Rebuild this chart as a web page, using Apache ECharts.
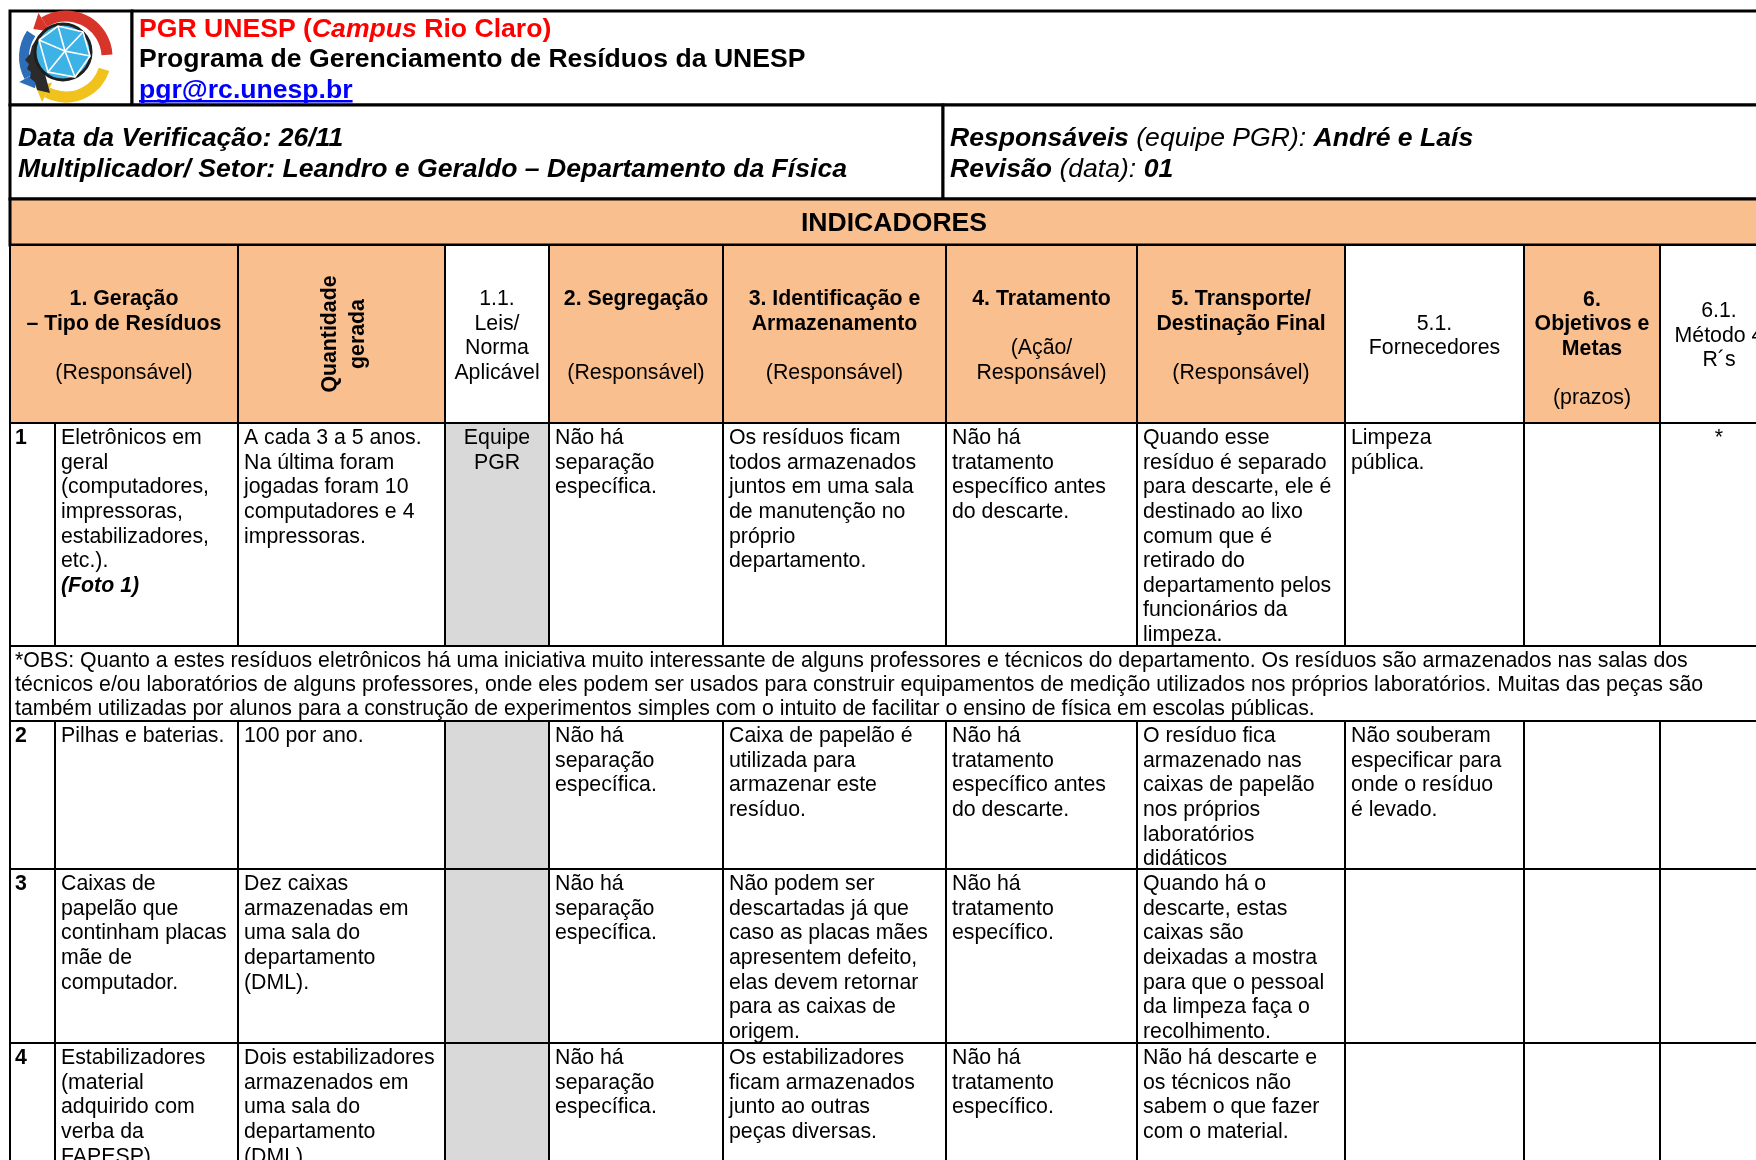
<!DOCTYPE html>
<html><head><meta charset="utf-8">
<script src="https://cdn.jsdelivr.net/npm/echarts@6/dist/echarts.min.js"></script>
<style>html,body{margin:0;padding:0;background:#fff}#c{width:1756px;height:1160px}</style>
</head><body><div id="c"></div>
<script>
// ---------------- DATA ----------------
const titleLines = ['{red|PGR UNESP (}{redi|Campus}{red| Rio Claro)}', 'Programa de Gerenciamento de Resíduos da UNESP', '{blue|pgr@rc.unesp.br}'];
const emailText = 'pgr@rc.unesp.br';
const infoLeft = ['Data da Verificação: 26/11', 'Multiplicador/ Setor: Leandro e Geraldo – Departamento da Física'];
const infoRight = ['{bi|Responsáveis}{i| (equipe PGR): }{bi|André e Laís}', '{bi|Revisão}{i| (data): }{bi|01}'];
const sectionTitle = 'INDICADORES';
const headerLabels = [
  '{b|1. Geração}\n{b|– Tipo de Resíduos}\n \n(Responsável)',
  'Quantidade\ngerada',
  '1.1.\nLeis/\nNorma\nAplicável',
  '{b|2. Segregação}\n \n \n(Responsável)',
  '{b|3. Identificação e}\n{b|Armazenamento}\n \n(Responsável)',
  '{b|4. Tratamento}\n \n(Ação/\nResponsável)',
  '{b|5. Transporte/}\n{b|Destinação Final}\n \n(Responsável)',
  '5.1.\nFornecedores',
  '{b|6.}\n{b|Objetivos e}\n{b|Metas}\n \n(prazos)',
  '6.1.\nMétodo 4\nR´s'
];
const rowNumbers = ['1', '2', '3', '4'];
const wasteTypes = [
  'Eletrônicos em\ngeral\n(computadores,\nimpressoras,\nestabilizadores,\netc.).\n{bi|(Foto 1)}',
  'Pilhas e baterias.',
  'Caixas de\npapelão que\ncontinham placas\nmãe de\ncomputador.',
  'Estabilizadores\n(material\nadquirido com\nverba da\nFAPESP).'
];
const quantities = [
  'A cada 3 a 5 anos.\nNa última foram\njogadas foram 10\ncomputadores e 4\nimpressoras.',
  '100 por ano.',
  'Dez caixas\narmazenadas em\numa sala do\ndepartamento\n(DML).',
  'Dois estabilizadores\narmazenados em\numa sala do\ndepartamento\n(DML).'
];
const laws = ['Equipe\nPGR', '', '', ''];
const segregation = [
  'Não há\nseparação\nespecífica.',
  'Não há\nseparação\nespecífica.',
  'Não há\nseparação\nespecífica.',
  'Não há\nseparação\nespecífica.'
];
const storage = [
  'Os resíduos ficam\ntodos armazenados\njuntos em uma sala\nde manutenção no\npróprio\ndepartamento.',
  'Caixa de papelão é\nutilizada para\narmazenar este\nresíduo.',
  'Não podem ser\ndescartadas já que\ncaso as placas mães\napresentem defeito,\nelas devem retornar\npara as caixas de\norigem.',
  'Os estabilizadores\nficam armazenados\njunto ao outras\npeças diversas.'
];
const treatment = [
  'Não há\ntratamento\nespecífico antes\ndo descarte.',
  'Não há\ntratamento\nespecífico antes\ndo descarte.',
  'Não há\ntratamento\nespecífico.',
  'Não há\ntratamento\nespecífico.'
];
const transport = [
  'Quando esse\nresíduo é separado\npara descarte, ele é\ndestinado ao lixo\ncomum que é\nretirado do\ndepartamento pelos\nfuncionários da\nlimpeza.',
  'O resíduo fica\narmazenado nas\ncaixas de papelão\nnos próprios\nlaboratórios\ndidáticos',
  'Quando há o\ndescarte, estas\ncaixas são\ndeixadas a mostra\npara que o pessoal\nda limpeza faça o\nrecolhimento.',
  'Não há descarte e\nos técnicos não\nsabem o que fazer\ncom o material.'
];
const suppliers = ['Limpeza\npública.', 'Não souberam\nespecificar para\nonde o resíduo\né levado.', '', ''];
const objectives = ['', '', '', ''];
const method4R = ['*', '', '', ''];
const obsNote = '*OBS: Quanto a estes resíduos eletrônicos há uma iniciativa muito interessante de alguns professores e técnicos do departamento. Os resíduos são armazenados nas salas dos\ntécnicos e/ou laboratórios de alguns professores, onde eles podem ser usados para construir equipamentos de medição utilizados nos próprios laboratórios. Muitas das peças são\ntambém utilizadas por alunos para a construção de experimentos simples com o intuito de facilitar o ensino de física em escolas públicas.';

// ---------------- LAYOUT / STYLE ----------------
const F = '"Liberation Sans", Arial, Helvetica, sans-serif';
const ORANGE = '#FABF8F', GRAY = '#D9D9D9';
const BIG = 26.6, SMALL = 21.3;
const colEdges = [10, 55, 238, 445, 549, 723, 946, 1137, 1345, 1524, 1660, 1778];
const headerSpans = [[0, 2], [2, 3], [3, 4], [4, 5], [5, 6], [6, 7], [7, 8], [8, 9], [9, 10], [10, 11]];
const headerFills = [ORANGE, ORANGE, '#fff', ORANGE, ORANGE, ORANGE, ORANGE, '#fff', ORANGE, '#fff'];
const headerDy = [2, 2, 2, 2, 2, 2, 2, 2, 15, 2];
const Y = { top: 11, logoBottom: 105, infoBottom: 199, secBottom: 245, headBottom: 423 };
const bodyRowEdges = [[423, 646], [721, 869], [869, 1043], [1043, 1243]];
const obsEdges = [646, 721];
const logoRight = 132, infoSplit = 943;

function rich(fs, lh) {
  return {
    b: { fontWeight: 'bold', fontSize: fs, lineHeight: lh, fontFamily: F, fill: '#000' },
    bi: { fontWeight: 'bold', fontStyle: 'italic', fontSize: fs, lineHeight: lh, fontFamily: F, fill: '#000' },
    i: { fontStyle: 'italic', fontSize: fs, lineHeight: lh, fontFamily: F, fill: '#000' },
    red: { fontWeight: 'bold', fontSize: fs, lineHeight: lh, fontFamily: F, fill: '#FF0000' },
    redi: { fontWeight: 'bold', fontStyle: 'italic', fontSize: fs, lineHeight: lh, fontFamily: F, fill: '#FF0000' },
    blue: { fontWeight: 'bold', fontSize: fs, lineHeight: lh, fontFamily: F, fill: '#0000FF' }
  };
}

// ---------------- BUILD CELLS ----------------
const cells = [];
const right = colEdges[colEdges.length - 1];
function add(x0, y0, x1, y1, o) { cells.push(Object.assign({ v: [x0, y0, x1, y1] }, o)); }

add(colEdges[0], Y.top, logoRight, Y.logoBottom, { lw: 3 });
add(logoRight, Y.top, right, Y.logoBottom, { lw: 3, text: titleLines.join('\n'), t: { mode: 'tl', padX: 7, padY: 3, fs: BIG, lh: 30.5, fw: 'bold' }, email: true });
add(colEdges[0], Y.logoBottom, infoSplit, Y.infoBottom, { lw: 3, text: infoLeft.join('\n'), t: { mode: 'tl', padX: 8, padY: 18.5, fs: BIG, lh: 31, fw: 'bold', fst: 'italic' } });
add(infoSplit, Y.logoBottom, right, Y.infoBottom, { lw: 3, text: infoRight.join('\n'), t: { mode: 'tl', padX: 7, padY: 18.5, fs: BIG, lh: 31, fst: 'italic' } });
add(colEdges[0], Y.infoBottom, right, Y.secBottom, { lw: 3, fill: ORANGE, text: sectionTitle, t: { mode: 'c', fs: BIG, lh: 30, fw: 'bold', dy: 2 } });

headerLabels.forEach((lab, i) => {
  const s = headerSpans[i];
  const rot = i === 1;
  add(colEdges[s[0]], Y.secBottom, colEdges[s[1]], Y.headBottom, {
    fill: headerFills[i], text: lab,
    t: { mode: 'c', fs: SMALL, lh: 24.6, fw: rot ? 'bold' : 'normal', dy: rot ? 0 : headerDy[i], dx: rot ? 3 : 0, rot: rot ? Math.PI / 2 : 0, lh2: rot ? 28 : null }
  });
});

const bodyCols = [rowNumbers, wasteTypes, quantities, laws, segregation, storage, treatment, transport, suppliers, objectives, method4R];
function bodyRow(r) {
  const [y0, y1] = bodyRowEdges[r];
  bodyCols.forEach((col, c) => {
    const centered = (c === 3 || c === 10);
    add(colEdges[c], y0, colEdges[c + 1], y1, {
      fill: c === 3 ? GRAY : '#fff', text: col[r],
      t: { mode: centered ? 'tc' : 'tl', padX: c === 0 ? 5 : 6, padY: 3, fs: SMALL, lh: 24.6, fw: c === 0 ? 'bold' : 'normal' }
    });
  });
}
bodyRow(0);
add(colEdges[0], obsEdges[0], right, obsEdges[1], { text: obsNote, t: { mode: 'tl', padX: 5, padY: 3, fs: SMALL, lh: 24, fw: 'normal' } });
bodyRow(1); bodyRow(2); bodyRow(3);

// measure for underline
const mctx = document.createElement('canvas').getContext('2d');
mctx.font = 'bold ' + BIG + 'px ' + F;
const emailW = mctx.measureText(emailText).width;

function renderItem(params, api) {
  const c = cells[params.dataIndex];
  const a = api.coord([api.value(0), api.value(1)]);
  const b = api.coord([api.value(2), api.value(3)]);
  const x0 = a[0], y0 = a[1], w = b[0] - a[0], h = b[1] - a[1];
  const kids = [{ type: 'rect', shape: { x: x0, y: y0, width: w, height: h }, style: { fill: c.fill || '#fff', stroke: '#000', lineWidth: c.lw || 2 } }];
  if (c.text) {
    const t = c.t;
    let tx, ty, align, va;
    if (t.mode === 'tl') { tx = x0 + t.padX; ty = y0 + t.padY; align = 'left'; va = 'top'; }
    else if (t.mode === 'tc') { tx = x0 + w / 2; ty = y0 + t.padY; align = 'center'; va = 'top'; }
    else { tx = x0 + w / 2 + (t.dx || 0); ty = y0 + h / 2 + (t.dy || 0); align = 'center'; va = 'middle'; }
    const lh = t.lh2 || t.lh;
    kids.push({
      type: 'text', x: tx, y: ty, rotation: t.rot || 0,
      style: { text: c.text, x: 0, y: 0, align: align, verticalAlign: va, fontSize: t.fs, fontFamily: F,
        fontWeight: t.fw || 'normal', fontStyle: t.fst || 'normal', lineHeight: lh, fill: '#000', rich: rich(t.fs, lh) }
    });
  }
  if (c.email) {
    kids.push({ type: 'rect', shape: { x: x0 + 7, y: 100, width: emailW, height: 2.5 }, style: { fill: '#0000FF' } });
  }
  return { type: 'group', children: kids };
}

// ---------------- LOGO (decoration) ----------------
const D = Math.PI / 180;
function arrowArc(cx, cy, r, a0, a1, color, headAtStart, lw) {
  const th = headAtStart ? a0 : a1;
  const px = cx + r * Math.cos(th), py = cy + r * Math.sin(th);
  const sgn = headAtStart ? -1 : 1;
  const dx = -Math.sin(th) * sgn, dy = Math.cos(th) * sgn;
  const nx = Math.cos(th), ny = Math.sin(th);
  return [
    { type: 'arc', shape: { cx: cx, cy: cy, r: r, startAngle: a0, endAngle: a1, clockwise: true }, style: { stroke: color, lineWidth: lw, fill: null } },
    { type: 'polygon', shape: { points: [[px + dx * 13, py + dy * 13], [px + nx * 11, py + ny * 11], [px - nx * 11, py - ny * 11]] }, style: { fill: color } }
  ];
}
const logo = [].concat(
  arrowArc(66, 57, 41, -122 * D, -3 * D, '#D7342A', true, 11),
  arrowArc(66, 57, 40, 18 * D, 118 * D, '#F1C21B', false, 11),
  arrowArc(66, 57, 42, 152 * D, 214 * D, '#2E6DB8', true, 10),
  [
    { type: 'polygon', shape: { points: [[46, 28], [38, 36], [32, 46], [30, 54], [25, 60], [29, 64], [27, 69], [31, 72], [30, 78], [35, 82], [37, 90], [50, 93], [45, 74], [41, 58], [43, 40]] }, style: { fill: '#2b2b2b' } },
    { type: 'circle', shape: { cx: 63, cy: 52, r: 28 }, style: { fill: '#3DB2E6', stroke: '#1e1e1e', lineWidth: 3 } },
    { type: 'polyline', shape: { points: [[39, 40], [58, 26], [83, 32], [90, 56], [75, 77], [48, 72], [39, 40]] }, style: { stroke: '#fff', lineWidth: 1.6, fill: null } },
    { type: 'polyline', shape: { points: [[58, 26], [65, 51], [90, 56]] }, style: { stroke: '#fff', lineWidth: 1.6, fill: null } },
    { type: 'polyline', shape: { points: [[39, 40], [65, 51], [75, 77]] }, style: { stroke: '#fff', lineWidth: 1.6, fill: null } },
    { type: 'polyline', shape: { points: [[65, 51], [48, 72]] }, style: { stroke: '#fff', lineWidth: 1.6, fill: null } },
    { type: 'polyline', shape: { points: [[83, 32], [65, 51]] }, style: { stroke: '#fff', lineWidth: 1.6, fill: null } }
  ]
).map(e => Object.assign(e, { z: 100 }));

// ---------------- CHART ----------------
const chart = echarts.init(document.getElementById('c'), null, { renderer: 'canvas' });
chart.setOption({
  animation: false,
  backgroundColor: '#fff',
  grid: { left: 0, right: 0, top: 0, bottom: 0 },
  xAxis: { type: 'value', min: 0, max: 1756, show: false },
  yAxis: { type: 'value', min: 0, max: 1160, inverse: true, show: false },
  series: [{
    type: 'custom',
    renderItem: renderItem,
    clip: false,
    dimensions: ['x0', 'y0', 'x1', 'y1'],
    encode: { x: [0, 2], y: [1, 3] },
    data: cells.map(c => c.v)
  }],
  graphic: { elements: logo }
});
</script></body></html>
